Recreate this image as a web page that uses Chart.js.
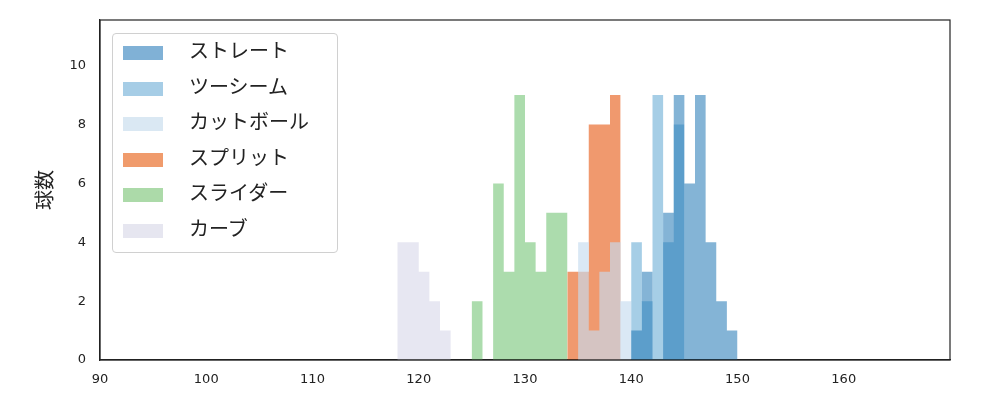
<!DOCTYPE html>
<html><head><meta charset="utf-8">
<script src="https://cdn.jsdelivr.net/npm/chart.js@4"></script>
<style>
body{margin:0;width:1000px;height:400px;position:relative;font-family:"Noto Sans CJK JP","DejaVu Sans",sans-serif;background:#fff}
#lg{position:absolute;left:112px;top:33px;width:226px;height:220px;border:1px solid #d0d0d0;border-radius:4px;background:rgba(255,255,255,0.8);box-sizing:border-box}
.it{position:absolute;left:10px;height:20px;font-size:20px;line-height:20px;color:#222}
.sw{position:absolute;left:0;top:3px;width:40px;height:14px}
.tx{position:absolute;left:66px;top:-3px;white-space:nowrap}
</style></head><body>
<canvas id="c" width="1000" height="400"></canvas>
<div id="lg"></div>
<script>
const seriesNames=["ストレート","ツーシーム","カットボール","スプリット","スライダー","カーブ"];
const colors=["rgba(31,119,180,0.55)","rgba(107,174,214,0.6)","rgba(198,219,239,0.65)","rgba(230,85,13,0.6)","rgba(116,196,118,0.6)","rgba(218,218,235,0.65)"];
const binStart=[139,139,134,133,124,117];
const straightCounts=[1,3,0,5,9,6,9,4,2,1,2];
const twoSeamCounts=[4,2,9,4,8,1];
const cutterCounts=[4,1,3,4,2,0,0,2];
const splitCounts=[3,3,8,8,9,11];
const sliderCounts=[2,0,6,3,9,4,3,5,5,1];
const curveCounts=[4,4,3,2,1,0,1];
const allCounts=[straightCounts,twoSeamCounts,cutterCounts,splitCounts,sliderCounts,curveCounts];
const xTicks=[90,100,110,120,130,140,150,160];
const yTicks=[0,2,4,6,8,10];

const datasets=allCounts.map((cs,i)=>{
  const pts=[{x:binStart[i],y:0}];
  cs.forEach((v,k)=>pts.push({x:binStart[i]+k+1,y:v}));
  pts.push({x:binStart[i]+cs.length,y:0});
  return {label:seriesNames[i],data:pts,stepped:'before',fill:'origin',backgroundColor:colors[i],borderWidth:0,pointRadius:0};
});
new Chart(document.getElementById('c'),{
  type:'line',data:{datasets},
  options:{responsive:false,animation:false,
    layout:{padding:{top:20,right:50,left:0,bottom:0}},
    plugins:{legend:{display:false},tooltip:{enabled:false}},
    scales:{
      x:{type:'linear',min:90,max:170,grid:{display:false},border:{color:'#222',width:1.2},
        afterBuildTicks:s=>{s.ticks=xTicks.map(v=>({value:v}))},
        afterFit:s=>{s.height=40},
        ticks:{color:'#222',font:{size:13,family:'DejaVu Sans'},padding:4}},
      y:{min:0,max:11.55,grid:{display:false},border:{color:'#222',width:1.2},
        afterBuildTicks:s=>{s.ticks=yTicks.map(v=>({value:v}))},
        afterFit:s=>{s.width=100},
        title:{display:true,text:'球数',font:{size:20,family:'Noto Sans CJK JP'},color:'#222',padding:{top:32,bottom:8}},
        ticks:{color:'#222',font:{size:13,family:'DejaVu Sans'},padding:6}}
    }},
  plugins:[{id:'frame',afterDraw(ch){const a=ch.chartArea,c=ch.ctx;c.save();c.strokeStyle='#222';c.lineWidth=1.2;c.strokeRect(a.left,a.top,a.right-a.left,a.bottom-a.top);c.restore();}}]
});
const lg=document.getElementById('lg');
const legendColors=["#80b1d6","#a6cde6","#dae8f3","#f09b6c","#acdaa9","#e6e6f0"];
seriesNames.forEach((n,i)=>{const d=document.createElement('div');d.className='it';d.style.top=(9+i*35.5)+'px';
d.innerHTML='<div class="sw" style="background:'+legendColors[i]+'"></div><div class="tx">'+n+'</div>';lg.appendChild(d);});
</script></body></html>
